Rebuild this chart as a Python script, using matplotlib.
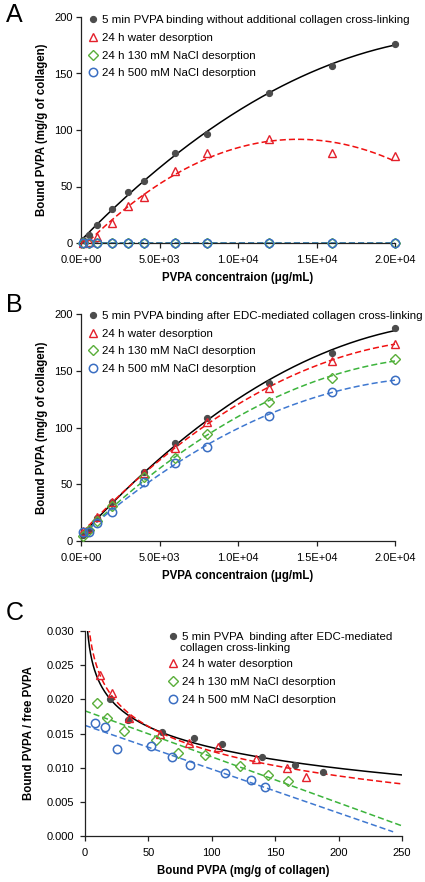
import numpy as np
import matplotlib
matplotlib.use("Agg")
import matplotlib.pyplot as plt
from matplotlib.ticker import FuncFormatter
from matplotlib.lines import Line2D

plt.rcParams['font.family'] = ['Liberation Sans', 'DejaVu Sans']

# ---------------- data ----------------
# Panel A (no additional cross-linking)
conc_A = [100, 500, 1000, 2000, 3000, 4000, 6000, 8000, 12000, 16000, 20000]
A_5min = [3, 7.5, 15.5, 30.5, 45.5, 55, 80, 96.5, 132.5, 157, 176.5]
A_water = [0, 0.5, 5.5, 18, 32.5, 41, 63.5, 79.5, 92, 79.5, 77]
A_nacl130 = [0, 0, 0, 0, 0, 0, 0, 0, 0, 0, 0]
A_nacl500 = [0, 0, 0, 0, 0, 0, 0, 0, 0, 0, 0]

# Panel B (EDC-mediated cross-linking)
conc_B = [100, 500, 1000, 2000, 4000, 6000, 8000, 12000, 16000, 20000]
B_5min = [5, 10, 20, 34, 61, 86, 108, 139.5, 166, 187.5]
B_water = [9, 11.75, 21, 34.5, 59.5, 82, 104.5, 134.5, 159, 174]
B_nacl130 = [4, 9.75, 17.2, 30.6, 56, 73.2, 94.4, 122.4, 144, 160]
B_nacl500 = [8, 8.25, 16, 25.6, 52.4, 69, 83.2, 110.4, 131.2, 142]

labels_A = ["5 min PVPA binding without additional collagen cross-linking",
            "24 h water desorption",
            "24 h 130 mM NaCl desorption",
            "24 h 500 mM NaCl desorption"]
labels_B = ["5 min PVPA binding after EDC-mediated collagen cross-linking",
            "24 h water desorption",
            "24 h 130 mM NaCl desorption",
            "24 h 500 mM NaCl desorption"]
labels_C = ["5 min PVPA  binding after EDC-mediated",
            "24 h water desorption",
            "24 h 130 mM NaCl desorption",
            "24 h 500 mM NaCl desorption"]
label_C_line2 = "collagen cross-linking"

xticks_AB = [0, 5000, 10000, 15000, 20000]
yticks_AB = [0, 50, 100, 150, 200]
xticks_C = [0, 50, 100, 150, 200, 250]
yticks_C = [0, 0.005, 0.010, 0.015, 0.020, 0.025, 0.030]

# ---------------- style ----------------
C_BLACK_M = '#4c4c4c'
C_RED = '#e3202b'
C_RED_L = '#f01010'
C_GREEN = '#5aae3a'
C_GREEN_L = '#3cb43c'
C_BLUE = '#3a6ec2'
C_BLUE_L = '#3f78d0'
DASH = (0, (4, 2))
LEG_FS = 8.25
LEG_SP = 0.67

fig = plt.figure(figsize=(4.25, 8.82), dpi=100)
axA = fig.add_axes([81/425, 1-243/882, 314/425, 226/882])
axB = fig.add_axes([81/425, 1-541/882, 314/425, 227/882])
axC = fig.add_axes([85/425, 1-836/882, 317/425, 205/882])

def style_axes(ax, xpad=5, ypad=2.5):
    for s in ['top', 'right']:
        ax.spines[s].set_visible(False)
    for s in ['left', 'bottom']:
        ax.spines[s].set_linewidth(0.9)
        ax.spines[s].set_color('#222222')
    ax.tick_params(direction='out', length=3.5, width=0.9, labelsize=8,
                   color='#222222')
    ax.tick_params(axis='x', pad=xpad)
    ax.tick_params(axis='y', pad=ypad)

def sci(v, pos):
    return f"{v:.1E}"

marker_kw = [
    dict(marker='o', ms=4.4, mfc=C_BLACK_M, mec=C_BLACK_M, mew=0.8),
    dict(marker='^', ms=6, mfc='none', mec=C_RED, mew=1.0),
    dict(marker='D', ms=4.6, mfc='none', mec=C_GREEN, mew=1.0),
    dict(marker='o', ms=6, mfc='none', mec=C_BLUE, mew=1.1),
]
line_kw = [
    dict(color='black', lw=1.1, ls='-'),
    dict(color=C_RED_L, lw=1.1, ls=DASH),
    dict(color=C_GREEN_L, lw=1.1, ls=DASH),
    dict(color=C_BLUE_L, lw=1.1, ls=DASH),
]

def add_legend(ax, labels, anchor, mks):
    handles = [Line2D([], [], ls='none', **mk) for mk in mks]
    leg = ax.legend(handles, labels, loc='upper left', bbox_to_anchor=anchor,
                    frameon=False, fontsize=LEG_FS, handlelength=0.7,
                    handletextpad=0.4, labelspacing=LEG_SP,
                    borderaxespad=0, borderpad=0)
    return leg

# ---------------- panel A ----------------
ax = axA
style_axes(ax)
seriesA = [A_5min, A_water, A_nacl130, A_nacl500]
xs = np.linspace(min(conc_A), max(conc_A), 300)
for i, ys in enumerate(seriesA):
    c = np.polyfit(conc_A, ys, 2)
    ax.plot(xs, np.polyval(c, xs), **line_kw[i], zorder=2)
for i, ys in enumerate(seriesA):
    ax.plot(conc_A, ys, ls='none', **marker_kw[i], clip_on=False, zorder=3)
ax.set_xlim(0, 20000)
ax.set_ylim(0, 200)
ax.set_xticks(xticks_AB)
ax.set_yticks(yticks_AB)
ax.xaxis.set_major_formatter(FuncFormatter(sci))
ax.set_xlabel("PVPA concentraion (\u03bcg/mL)", fontsize=8.3, fontweight='bold')
ax.set_ylabel("Bound PVPA (mg/g of collagen)", fontsize=8.3, fontweight='bold')
ax.xaxis.set_label_coords(0.5, -0.128)
ax.yaxis.set_label_coords(-0.106, 0.5)
add_legend(ax, labels_A, (0.026, 1.008), marker_kw)

# ---------------- panel B ----------------
ax = axB
style_axes(ax)
seriesB = [B_5min, B_water, B_nacl130, B_nacl500]
xs = np.linspace(min(conc_B), max(conc_B), 300)
for i, ys in enumerate(seriesB):
    c = np.polyfit(conc_B, ys, 2)
    ax.plot(xs, np.polyval(c, xs), **line_kw[i], zorder=2)
for i, ys in enumerate(seriesB):
    ax.plot(conc_B, ys, ls='none', **marker_kw[i], clip_on=False, zorder=3)
ax.set_xlim(0, 20000)
ax.set_ylim(0, 200)
ax.set_xticks(xticks_AB)
ax.set_yticks(yticks_AB)
ax.xaxis.set_major_formatter(FuncFormatter(sci))
ax.set_xlabel("PVPA concentraion (\u03bcg/mL)", fontsize=8.3, fontweight='bold')
ax.set_ylabel("Bound PVPA (mg/g of collagen)", fontsize=8.3, fontweight='bold')
ax.xaxis.set_label_coords(0.5, -0.128)
ax.yaxis.set_label_coords(-0.106, 0.5)
add_legend(ax, labels_B, (0.026, 1.013), marker_kw)

# ---------------- panel C (bound / free vs bound) ----------------
ax = axC
style_axes(ax, xpad=5, ypad=4.5)
start = [2, 1, 1, 1]  # first concentration index shown for each series
for i, ys in enumerate(seriesB):
    b = np.array(ys[start[i]:], float)
    f = np.array(conc_B[start[i]:], float)
    r = b / f
    if i < 2:
        c = np.polyfit(np.log(b), r, 1)
        xx = np.linspace(0.5, 250, 500)
        ax.plot(xx, c[0]*np.log(xx) + c[1], **line_kw[i], zorder=2)
    else:
        c = np.polyfit(b, r, 1)
        xx = np.linspace(0, 250 if i == 2 else 243, 100)
        ax.plot(xx, np.polyval(c, xx), **line_kw[i], zorder=2)
    ax.plot(b, r, ls='none', **marker_kw[i], zorder=3)
ax.set_xlim(0, 250)
ax.set_ylim(0, 0.030)
ax.set_xticks(xticks_C)
ax.set_yticks(yticks_C)
ax.yaxis.set_major_formatter(FuncFormatter(lambda v, p: f"{v:.3f}"))
ax.set_xlabel("Bound PVPA (mg/g of collagen)", fontsize=8.3, fontweight='bold')
ax.set_ylabel("Bound PVPA / free PVPA", fontsize=8.3, fontweight='bold')
ax.xaxis.set_label_coords(0.5, -0.142)
ax.yaxis.set_label_coords(-0.158, 0.5)
leg1 = add_legend(ax, labels_C[:1], (0.265, 0.996), marker_kw[:1])
ax.add_artist(leg1)
ax.text((180.5 - 85) / 317, (836 - 648) / 205, label_C_line2, transform=ax.transAxes,
        fontsize=LEG_FS, ha='left', va='center')
add_legend(ax, labels_C[1:], (0.265, 0.862), marker_kw[1:])

# panel letters
for letter, y in [('A', 15), ('B', 305), ('C', 613)]:
    fig.text(14.5/425, 1 - y/882, letter, fontsize=18, ha='center', va='center')

fig.savefig('out.png', dpi=100)
